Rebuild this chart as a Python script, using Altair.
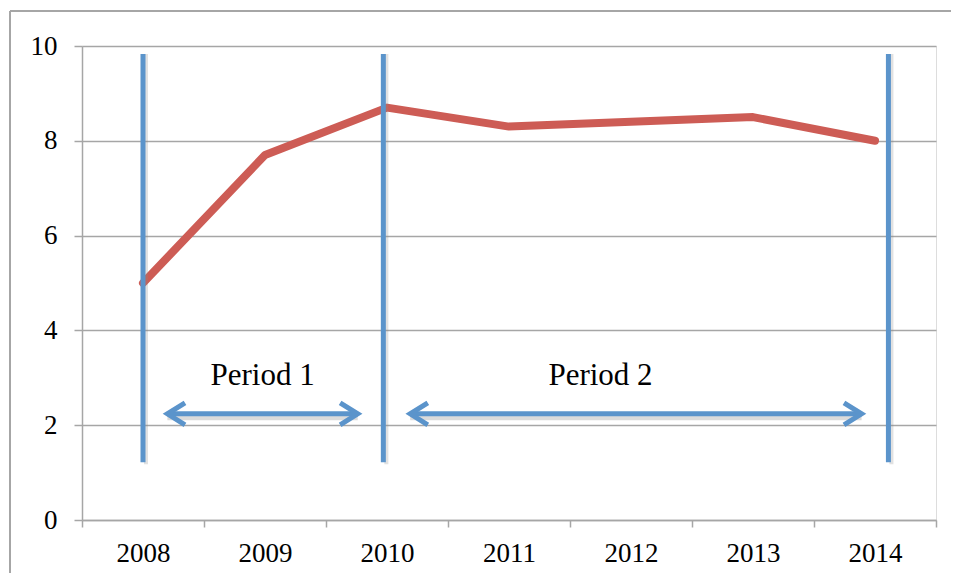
import altair as alt
import pandas as pd

years = [2008, 2009, 2010, 2011, 2012, 2013, 2014]
values = [5.0, 7.7, 8.7, 8.3, 8.4, 8.5, 8.0]

# vertical period markers (x position in year units, y extent)
marker_x = [2008.0, 2009.97, 2014.11]
marker_y_top = 9.83
marker_y_bottom = 1.22

# arrows: start, end, level
arrow_starts = [2008.2, 2010.19]
arrow_ends = [2009.76, 2013.89]
arrow_level = 2.24

period_labels = ["Period 1", "Period 2"]
period_label_x = [2008.98, 2011.75]
period_label_y = 2.85

RED = "#CD5C55"
BLUE = "#5B94CB"
GRID = "#A6A6A6"
FONT = "Liberation Serif"

df_line = pd.DataFrame({"year": years, "value": values})
df_markers = pd.DataFrame({"x": marker_x, "y": [marker_y_bottom] * 3, "y2": [marker_y_top] * 3})
arrow_rows = []
for i, (s, e) in enumerate(zip(arrow_starts, arrow_ends)):
    arrow_rows.append({"id": i, "x": s, "y": arrow_level})
    arrow_rows.append({"id": i, "x": e, "y": arrow_level})
df_arrows = pd.DataFrame(arrow_rows)
df_heads_r = pd.DataFrame({"x": arrow_ends, "y": [arrow_level] * 2})
df_heads_l = pd.DataFrame({"x": arrow_starts, "y": [arrow_level] * 2})
df_labels = pd.DataFrame({"x": period_label_x, "y": [period_label_y] * 2, "label": period_labels})

xscale = alt.Scale(domain=[2007.5, 2014.5], nice=False, zero=False)
yscale = alt.Scale(domain=[0, 10], nice=False)

boundaries = [2007.5 + i for i in range(8)]

x_axis = alt.Axis(
    values=boundaries,
    labelExpr="datum.value < 2014 ? format(datum.value + 0.5, 'd') : ''",
    labelOffset=61,
    labelFont=FONT, labelFontSize=27, labelColor="#000000",
    labelPadding=13, tickSize=7, tickColor=GRID, tickWidth=1.5,
    domainColor=GRID, domainWidth=1.5, grid=False, title=None,
    labelFlush=False, labelOverlap=False,
)
y_axis = alt.Axis(
    values=[0, 2, 4, 6, 8, 10], format="d",
    labelFont=FONT, labelFontSize=27, labelColor="#000000",
    labelPadding=17, tickSize=8, tickColor=GRID, tickWidth=1.5,
    domainColor=GRID, domainWidth=1.5, grid=True, gridColor=GRID, gridWidth=1.5,
    title=None,
)

base_line = alt.Chart(df_line).mark_line(
    color=RED, strokeWidth=8, strokeCap="round", strokeJoin="round"
).encode(
    x=alt.X("year:Q", scale=xscale, axis=x_axis),
    y=alt.Y("value:Q", scale=yscale, axis=y_axis),
)

marker_shadow = alt.Chart(df_markers).mark_rule(
    color="#888888", strokeWidth=4, opacity=0.25, xOffset=3, yOffset=2
).encode(x="x:Q", y="y:Q", y2="y2:Q")

markers = alt.Chart(df_markers).mark_rule(color=BLUE, strokeWidth=5).encode(
    x="x:Q", y="y:Q", y2="y2:Q"
)

arrow_shadow = alt.Chart(df_arrows).mark_line(
    color="#888888", strokeWidth=7, opacity=0.3, yOffset=3
).encode(x="x:Q", y="y:Q", detail="id:N")

arrows = alt.Chart(df_arrows).mark_line(color=BLUE, strokeWidth=5).encode(
    x="x:Q", y="y:Q", detail="id:N"
)

head_r = alt.Chart(df_heads_r).mark_point(
    shape="M -1.6 -1 L 0 0 L -1.6 1", size=484, filled=False,
    stroke=BLUE, strokeWidth=5, opacity=1, strokeJoin="miter", strokeCap="butt",
).encode(x="x:Q", y="y:Q")

head_l = alt.Chart(df_heads_l).mark_point(
    shape="M 1.6 -1 L 0 0 L 1.6 1", size=484, filled=False,
    stroke=BLUE, strokeWidth=5, opacity=1, strokeJoin="miter", strokeCap="butt",
).encode(x="x:Q", y="y:Q")

labels = alt.Chart(df_labels).mark_text(
    font=FONT, fontSize=31, color="#000000", baseline="alphabetic", align="center"
).encode(x="x:Q", y="y:Q", text="label:N")

frame_top = alt.Chart(df_line).mark_rule(color=GRID, strokeWidth=1.5).encode(
    x=alt.value(-72), x2=alt.value(900), y=alt.value(-35)
)
frame_left = alt.Chart(df_line).mark_rule(color=GRID, strokeWidth=1.5).encode(
    x=alt.value(-72), y=alt.value(-35), y2=alt.value(560)
)

chart = alt.layer(
    frame_top, frame_left,
    base_line, marker_shadow, markers, arrow_shadow, arrows, head_r, head_l, labels,
).properties(
    width=854, height=474,
    autosize=alt.AutoSizeParams(type="none"),
    padding={"left": 74, "top": 38, "right": 15, "bottom": 53},
).configure_view(stroke=None).configure(background="white")

chart.save("out.html", embed_options={"renderer": "svg", "actions": False})
